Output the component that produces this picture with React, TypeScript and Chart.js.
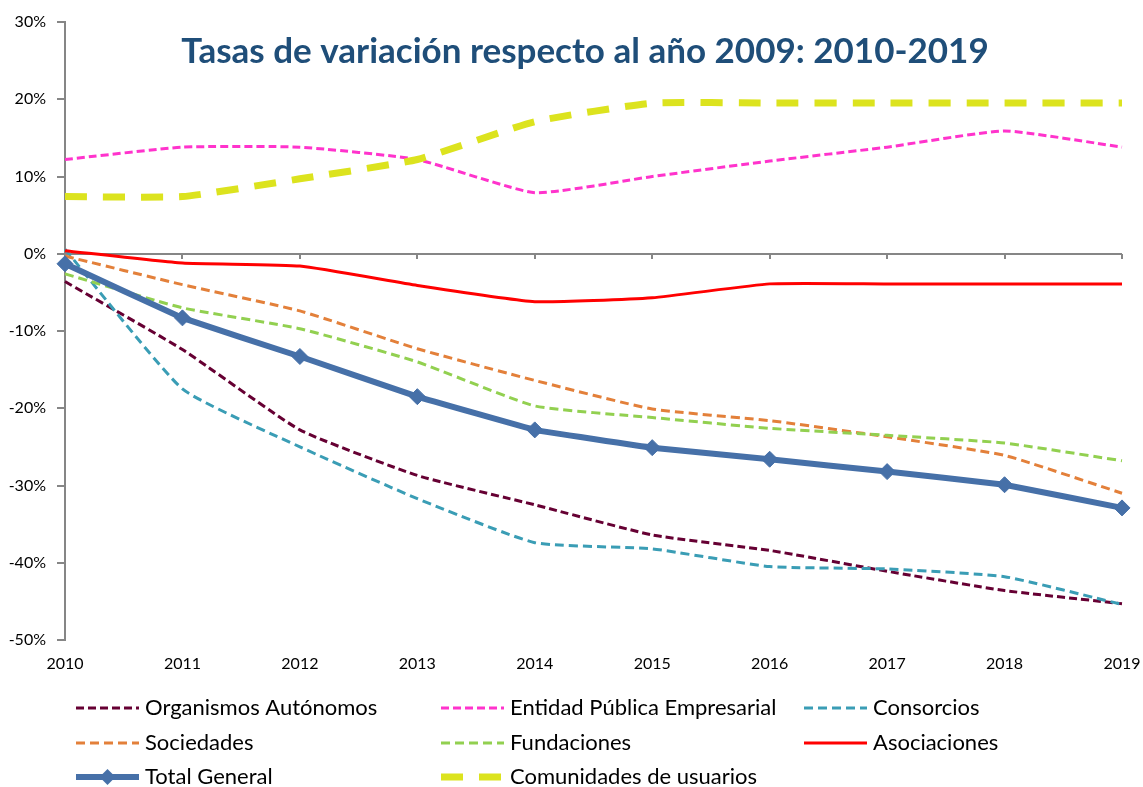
import React, { useEffect, useRef } from "react";
import { Chart, registerables } from "chart.js";

Chart.register(...registerables);

const years = ["2010", "2011", "2012", "2013", "2014", "2015", "2016", "2017", "2018", "2019"];

const organismosAutonomos = [-3.6, -12.4, -22.8, -28.7, -32.5, -36.4, -38.4, -41.1, -43.6, -45.3];
const entidadPublica = [12.2, 13.8, 13.8, 12.2, 7.9, 10.0, 12.0, 13.8, 15.9, 13.8];
const consorcios = [0.6, -17.5, -25.0, -31.7, -37.4, -38.2, -40.5, -40.8, -41.8, -45.4];
const sociedades = [-0.3, -4.0, -7.4, -12.3, -16.4, -20.1, -21.6, -23.7, -26.1, -31.0];
const fundaciones = [-2.6, -7.0, -9.7, -14.0, -19.7, -21.2, -22.6, -23.5, -24.5, -26.8];
const asociaciones = [0.4, -1.2, -1.6, -4.1, -6.2, -5.7, -3.9, -3.9, -3.9, -3.9];
const totalGeneral = [-1.3, -8.3, -13.3, -18.5, -22.8, -25.1, -26.6, -28.2, -29.9, -32.9];
const comunidadesUsuarios = [7.4, 7.4, 9.7, 12.2, 17.1, 19.5, 19.5, 19.5, 19.5, 19.5];

const seriesNames = [
  "Organismos Autónomos",
  "Entidad Pública Empresarial",
  "Consorcios",
  "Sociedades",
  "Fundaciones",
  "Asociaciones",
  "Total General",
  "Comunidades de usuarios",
];

const yMin = -50;
const yMax = 30;
const yStep = 10;

const titleText = "Tasas de variación respecto al año 2009: 2010-2019";

const FONT = "Lato, 'Open Sans', sans-serif";
const AXIS_COLOR = "#868686";

export default function App() {
  const canvasRef = useRef<HTMLCanvasElement | null>(null);

  useEffect(() => {
    document.body.style.margin = "0";
    const canvas = canvasRef.current;
    if (!canvas) return;

    const mk = (label: string, data: number[], color: string, width: number, dash: number[], order: number, extra: any = {}) => ({
      label,
      data,
      borderColor: color,
      backgroundColor: color,
      borderWidth: width,
      borderDash: dash,
      pointRadius: 0,
      pointHoverRadius: 0,
      tension: 0.15,
      fill: false,
      order,
      ...extra,
    });

    const datasets: any[] = [
      mk(seriesNames[0], organismosAutonomos, "#660033", 3, [8, 4], 8),
      mk(seriesNames[1], entidadPublica, "#FF33CC", 3, [8, 4], 7),
      mk(seriesNames[2], consorcios, "#3A9DB5", 3, [9, 5], 6),
      mk(seriesNames[3], sociedades, "#E3803A", 3, [9, 5], 5),
      mk(seriesNames[4], fundaciones, "#92D050", 3, [9, 5], 4),
      mk(seriesNames[5], asociaciones, "#FF0000", 3, [], 3),
      mk(seriesNames[6], totalGeneral, "#4670A8", 6, [], 2, {
        pointRadius: 8,
        pointStyle: "rectRot",
        pointBorderWidth: 1,
        tension: 0.05,
      }),
      mk(seriesNames[7], comunidadesUsuarios, "#DCE31E", 7, [22, 16], 1),
    ];

    const decorPlugin = {
      id: "decor",
      beforeDatasetsDraw(chart: any) {
        const { ctx, chartArea, scales } = chart;
        const y0 = Math.round(scales.y.getPixelForValue(0));
        ctx.save();
        ctx.strokeStyle = AXIS_COLOR;
        ctx.lineWidth = 2;
        ctx.beginPath();
        ctx.moveTo(chartArea.left, y0);
        ctx.lineTo(chartArea.right, y0);
        for (let i = 0; i < years.length; i++) {
          const x = Math.round(scales.x.getPixelForValue(i));
          ctx.moveTo(x, y0);
          ctx.lineTo(x, y0 + 5);
        }
        ctx.stroke();
        ctx.restore();
      },
      afterDraw(chart: any) {
        const { ctx } = chart;
        ctx.save();
        // Title
        ctx.font = `bold 35px ${FONT}`;
        ctx.fillStyle = "#1F4E79";
        ctx.textAlign = "center";
        ctx.textBaseline = "middle";
        ctx.fillText(titleText, 585, 52);

        // Legend
        const colSample = [76, 441, 804];
        const sampleLen = 63;
        const rowY = [708, 743, 777];
        ctx.font = `22px ${FONT}`;
        ctx.textAlign = "left";
        chart.data.datasets.forEach((ds: any, i: number) => {
          const col = i % 3;
          const row = Math.floor(i / 3);
          const x0 = colSample[col];
          const y = rowY[row];
          ctx.save();
          ctx.strokeStyle = ds.borderColor;
          ctx.lineWidth = ds.borderWidth;
          ctx.setLineDash(ds.borderDash || []);
          ctx.beginPath();
          ctx.moveTo(x0, y);
          ctx.lineTo(x0 + sampleLen, y);
          ctx.stroke();
          ctx.setLineDash([]);
          if (ds.pointStyle === "rectRot") {
            const cx = x0 + sampleLen / 2;
            const r = ds.pointRadius;
            ctx.fillStyle = ds.borderColor;
            ctx.beginPath();
            ctx.moveTo(cx, y - r);
            ctx.lineTo(cx + r, y);
            ctx.lineTo(cx, y + r);
            ctx.lineTo(cx - r, y);
            ctx.closePath();
            ctx.fill();
          }
          ctx.restore();
          ctx.fillStyle = "#000";
          ctx.fillText(ds.label, x0 + sampleLen + 6, y);
        });
        ctx.restore();
      },
    };

    const chart = new Chart(canvas, {
      type: "line",
      data: { labels: years, datasets },
      options: {
        responsive: false,
        animation: false,
        layout: { padding: { top: 22, right: 0, left: 0, bottom: 0 } },
        plugins: {
          legend: { display: false },
          title: { display: false },
          tooltip: { enabled: false },
        },
        scales: {
          x: {
            type: "category",
            offset: false,
            grid: { display: false, drawTicks: false },
            border: { display: false },
            ticks: {
              autoSkip: false,
              maxRotation: 0,
              color: "#000",
              font: { family: FONT, size: 16 },
              padding: 14,
            },
            afterFit: (s: any) => {
              s.height = 147;
              s.paddingRight = 21;
              s.paddingLeft = 0;
            },
          },
          y: {
            min: yMin,
            max: yMax,
            grid: {
              display: true,
              drawOnChartArea: false,
              drawTicks: true,
              tickLength: 8,
              color: AXIS_COLOR,
              lineWidth: 2,
            },
            border: { display: true, color: AXIS_COLOR, width: 2 },
            ticks: {
              stepSize: yStep,
              color: "#000",
              font: { family: FONT, size: 16 },
              padding: 11,
              callback: (v: any) => `${v}%`,
            },
            afterFit: (s: any) => {
              s.width = 65;
            },
          },
        },
      },
      plugins: [decorPlugin],
    });

    return () => chart.destroy();
  }, []);

  return (
    <div style={{ width: 1143, height: 787, background: "#fff" }}>
      <canvas ref={canvasRef} width={1143} height={787} style={{ display: "block" }} />
    </div>
  );
}
